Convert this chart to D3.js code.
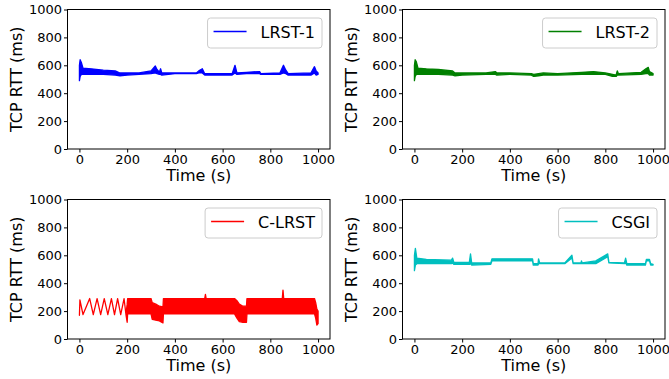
<!DOCTYPE html>
<html>
<head>
<meta charset="utf-8">
<script src="https://cdn.jsdelivr.net/npm/d3@7"></script>
<style>
html,body{margin:0;padding:0;background:#fff;}
svg{display:block;font-family:"DejaVu Sans",sans-serif;}
</style>
</head>
<body>
<svg id="chart" width="669" height="379"></svg>
<script>
// ---------- data ----------
const xTicks = [0, 200, 400, 600, 800, 1000];
const yTicks = [0, 200, 400, 600, 800, 1000];
const seriesNames = ["LRST-1", "LRST-2", "C-LRST", "CSGI"];
const seriesColors = ["#0000ff", "#008000", "#ff0000", "#00bfbf"];

// LRST-1: time, lower envelope, upper envelope (ms)
const lrst1T  = [0, 3, 8, 15, 50, 100, 150, 170, 200, 250, 300, 318, 325, 335, 340, 345, 400, 490, 500, 515, 525, 640, 652, 660, 700, 755, 760, 840, 855, 865, 875, 970, 985, 992, 1000];
const lrst1Lo = [490, 520, 535, 535, 535, 535, 530, 525, 530, 535, 540, 545, 540, 535, 535, 530, 540, 540, 545, 545, 530, 530, 545, 535, 540, 540, 535, 535, 545, 540, 530, 530, 545, 530, 535];
const lrst1Hi = [600, 640, 620, 580, 575, 565, 560, 545, 545, 545, 560, 595, 570, 550, 575, 545, 545, 545, 560, 575, 540, 540, 600, 545, 550, 555, 540, 545, 600, 565, 540, 545, 590, 560, 545];

// LRST-2
const lrst2T  = [0, 3, 8, 15, 50, 100, 160, 170, 200, 300, 340, 345, 400, 490, 500, 520, 540, 600, 700, 750, 800, 830, 845, 850, 855, 950, 970, 980, 985, 1000];
const lrst2Lo = [490, 520, 535, 535, 535, 535, 530, 525, 530, 535, 535, 530, 535, 530, 520, 525, 530, 530, 535, 535, 535, 520, 520, 530, 530, 535, 540, 540, 530, 530];
const lrst2Hi = [600, 640, 625, 580, 575, 570, 560, 545, 545, 545, 555, 545, 545, 540, 535, 540, 545, 540, 550, 555, 545, 535, 530, 560, 540, 550, 575, 585, 555, 540];

// C-LRST
const clrstT  = [0, 2, 15, 43, 58, 74, 89, 104, 119, 134, 147, 160, 173, 187, 195, 200, 202, 300, 305, 320, 335, 350, 352, 525, 528, 531, 650, 660, 670, 685, 700, 702, 850, 853, 856, 985, 990, 995, 1000];
const clrstLo = [170, 280, 175, 290, 175, 290, 175, 290, 175, 290, 175, 290, 175, 290, 175, 120, 180, 180, 140, 135, 130, 115, 180, 180, 180, 180, 180, 150, 125, 120, 120, 180, 180, 180, 180, 180, 150, 100, 110];
const clrstHi = [170, 280, 175, 290, 175, 290, 175, 290, 175, 290, 175, 290, 175, 290, 175, 250, 290, 290, 260, 250, 235, 230, 290, 290, 320, 290, 290, 275, 250, 235, 235, 290, 290, 350, 290, 290, 260, 215, 200];

// CSGI
const csgiT  = [0, 4, 10, 50, 155, 160, 165, 230, 235, 240, 320, 325, 495, 498, 518, 520, 525, 630, 660, 665, 698, 700, 703, 760, 810, 815, 880, 885, 890, 968, 972, 985, 990, 1000];
const csgiLo = [490, 530, 540, 540, 540, 545, 535, 535, 540, 530, 535, 560, 560, 530, 530, 540, 540, 540, 580, 540, 540, 545, 540, 540, 590, 545, 540, 545, 530, 530, 560, 560, 530, 530];
const csgiHi = [600, 650, 580, 570, 565, 580, 550, 550, 610, 545, 545, 575, 575, 540, 540, 575, 545, 545, 600, 545, 545, 560, 545, 560, 610, 550, 545, 580, 540, 540, 570, 570, 540, 535];

const seriesT  = [lrst1T, lrst2T, clrstT, csgiT];
const seriesLo = [lrst1Lo, lrst2Lo, clrstLo, csgiLo];
const seriesHi = [lrst1Hi, lrst2Hi, clrstHi, csgiHi];

// ---------- layout ----------
const panelLeft = [67.5, 402.5, 67.5, 402.5];
const panelTop  = [9.5, 9.5, 199.5, 199.5];
const pw = 262.5, ph = 139.5;

const svg = d3.select("#chart");

seriesNames.forEach((name, i) => {
  const g = svg.append("g").attr("transform", `translate(${panelLeft[i]},${panelTop[i]})`);
  const x = d3.scaleLinear().domain([-50, 1050]).range([0, pw]);
  const y = d3.scaleLinear().domain([0, 1000]).range([ph, 0]);

  const pts = seriesT[i].map((t, k) => ({t, lo: seriesLo[i][k], hi: seriesHi[i][k]}));
  const area = d3.area().x(d => x(d.t)).y0(d => y(d.lo)).y1(d => y(d.hi));
  g.append("path").datum(pts)
    .attr("d", area)
    .attr("fill", seriesColors[i])
    .attr("stroke", seriesColors[i])
    .attr("stroke-width", 1.3)
    .attr("stroke-linejoin", "round");

  // axes
  const xa = d3.axisBottom(x).tickValues(xTicks).tickSize(3.5).tickPadding(2.5).tickFormat(d3.format("d"));
  const ya = d3.axisLeft(y).tickValues(yTicks).tickSize(3.5).tickPadding(2).tickFormat(d3.format("d"));
  const gx = g.append("g").attr("transform", `translate(0,${ph})`).call(xa);
  const gy = g.append("g").call(ya);
  [gx, gy].forEach(a => {
    a.select(".domain").remove();
    a.selectAll("text").attr("font-size", 13).attr("fill", "#000").attr("font-family", "DejaVu Sans");
    a.selectAll("line").attr("stroke", "#000");
  });
  g.append("rect").attr("x", 0).attr("y", 0).attr("width", pw).attr("height", ph)
    .attr("fill", "none").attr("stroke", "#000").attr("stroke-width", 1);

  // labels
  g.append("text").attr("x", pw / 2).attr("y", ph + 32).attr("text-anchor", "middle")
    .attr("font-size", 16).text("Time (s)");
  g.append("text").attr("transform", `translate(-45.5,${ph / 2}) rotate(-90)`).attr("text-anchor", "middle")
    .attr("font-size", 16).text("TCP RTT (ms)");

  // legend
  const lg = g.append("g");
  const box = lg.append("rect").attr("rx", 3).attr("ry", 3)
    .attr("fill", "#fff").attr("fill-opacity", 0.8).attr("stroke", "#cccccc").attr("stroke-width", 1);
  const txt = lg.append("text").attr("font-size", 16).attr("fill", "#000").text(name);
  const tw = txt.node().getComputedTextLength();
  const bw = 6 + 33 + 14 + tw + 7;
  const bh = 30;
  const bx = pw - 8 - bw, by = 8.5;
  box.attr("x", bx).attr("y", by).attr("width", bw).attr("height", bh);
  lg.append("line").attr("x1", bx + 6).attr("x2", bx + 39).attr("y1", by + 13.5).attr("y2", by + 13.5)
    .attr("stroke", seriesColors[i]).attr("stroke-width", 1.3);
  txt.attr("x", bx + 53).attr("y", by + 19.5);
});
</script>
</body>
</html>
